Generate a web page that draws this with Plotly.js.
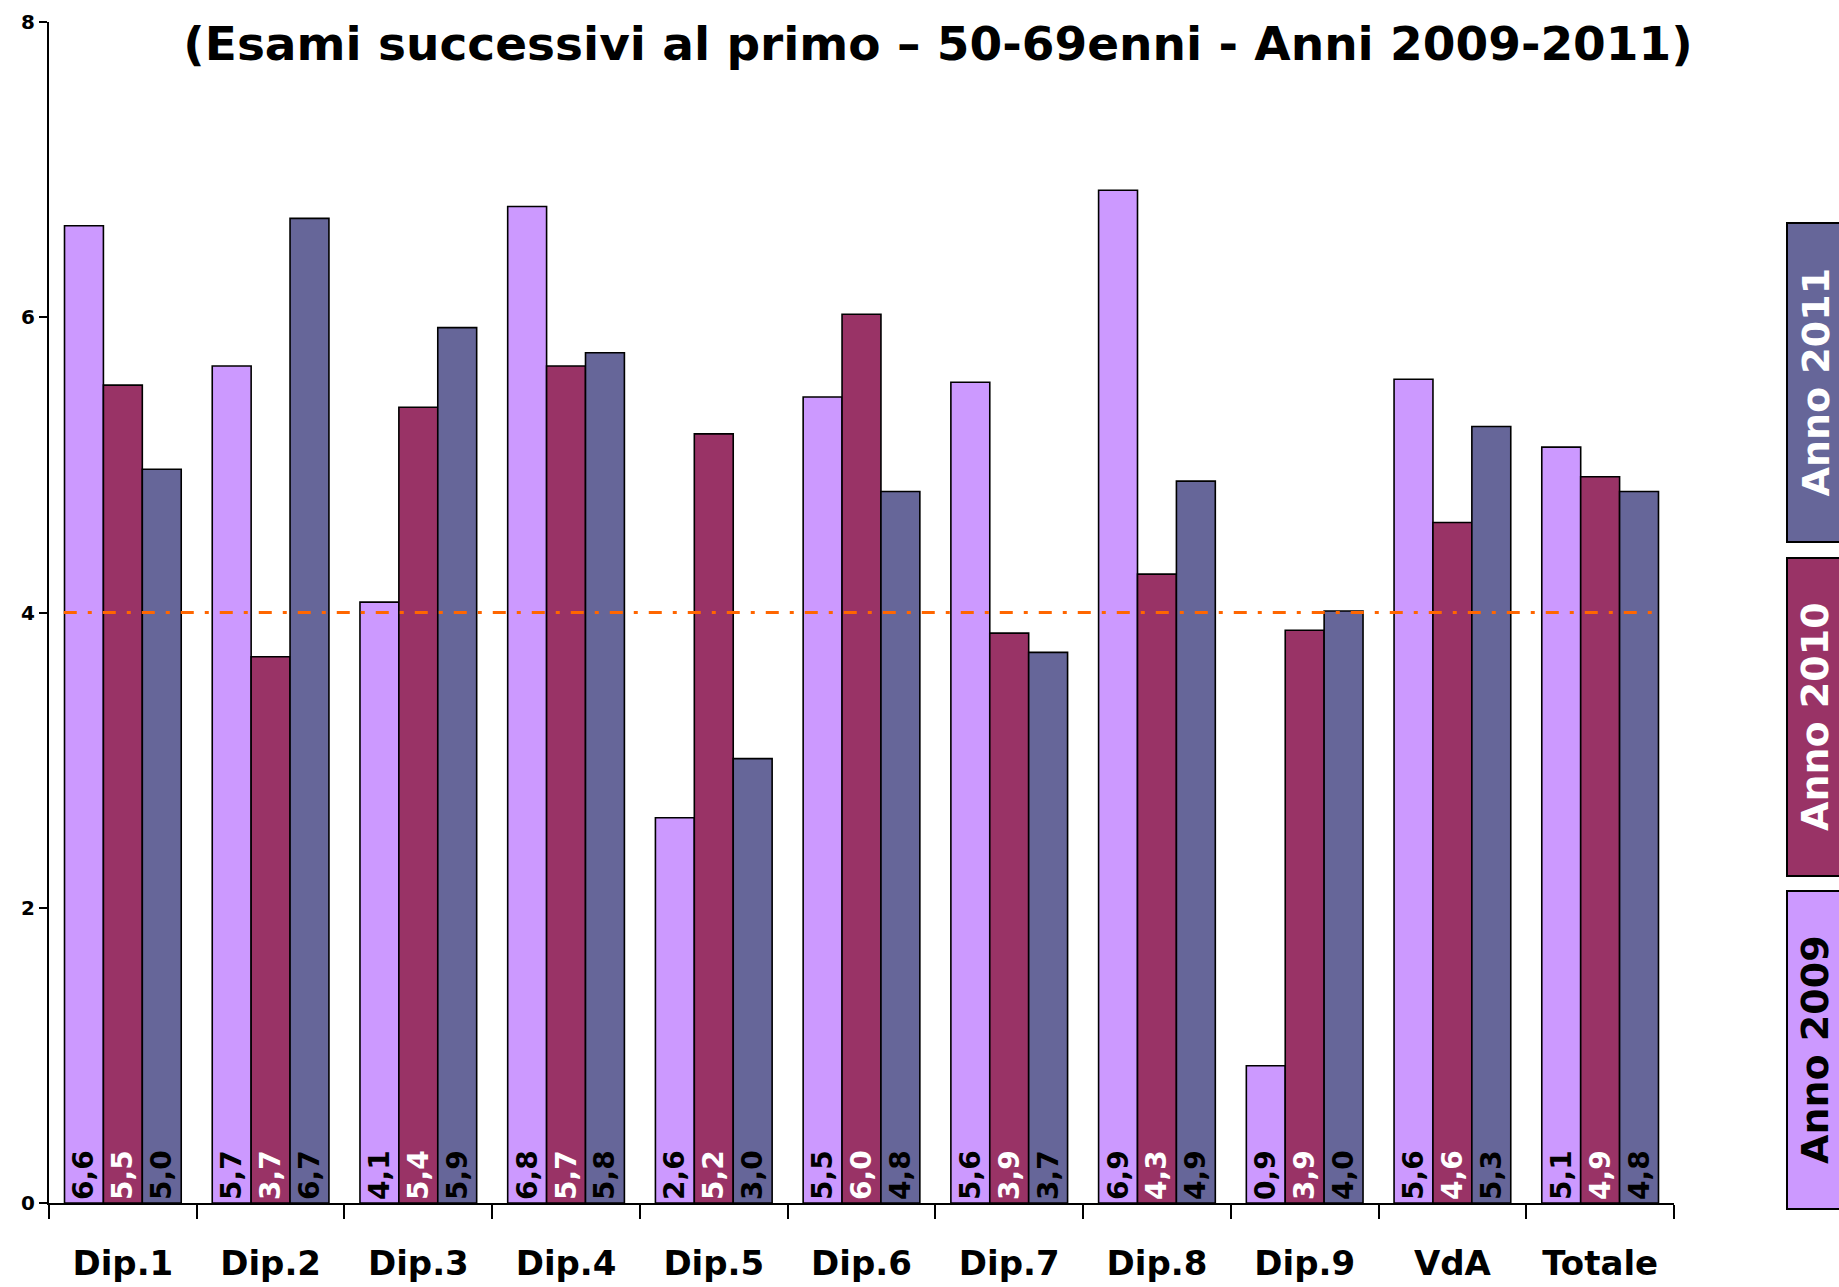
<!DOCTYPE html>
<html>
<head>
<meta charset="utf-8">
<script src="https://cdn.plot.ly/plotly-3.0.1.min.js"></script>
<style>html,body{margin:0;padding:0;background:#fff;}#chart{width:1839px;height:1287px;}</style>
</head>
<body>
<div id="chart"></div>
<script>
const categories = ["Dip.1","Dip.2","Dip.3","Dip.4","Dip.5","Dip.6","Dip.7","Dip.8","Dip.9","VdA","Totale"];
const seriesNames = ["Anno 2009","Anno 2010","Anno 2011"];
const values2009 = [6.62,5.67,4.07,6.75,2.61,5.46,5.56,6.86,0.93,5.58,5.12];
const values2010 = [5.54,3.70,5.39,5.67,5.21,6.02,3.86,4.26,3.88,4.61,4.92];
const values2011 = [4.97,6.67,5.93,5.76,3.01,4.82,3.73,4.89,4.01,5.26,4.82];
const threshold = 4;
const titleText = "(Esami successivi al primo – 50-69enni - Anni 2009-2011)";

const colors = ["#CC99FF","#993366","#666699"];
const textColors = ["#000000","#ffffff","#000000"];
const legendTextColors = ["#000000","#ffffff","#ffffff"];
const allValues = [values2009, values2010, values2011];
const FONT = "DejaVu Sans, Arial, sans-serif";

const traces = allValues.map((vals, i) => ({
  type: "bar",
  name: seriesNames[i],
  x: categories,
  y: vals,
  marker: {color: colors[i], line: {color: "#000", width: 1.6}},
  texttemplate: "%{y:.1f}",
  textposition: "inside",
  insidetextanchor: "start",
  textangle: -90,
  constraintext: "none",
  insidetextfont: {family: FONT, size: 28, color: textColors[i], weight: "bold"},
  hoverinfo: "skip",
  showlegend: false
}));

traces.push({
  type: "scatter",
  mode: "lines",
  x: [-0.4, 10.4],
  y: [threshold, threshold],
  xaxis: "x2",
  line: {color: "#FF6600", width: 3, dash: "13px,11px,4px,11px"},
  hoverinfo: "skip",
  showlegend: false
});

// Legend boxes (rotated) drawn as shapes + annotations
const legendBoxes = [
  {y0: 223, y1: 542, idx: 2},
  {y0: 558, y1: 876, idx: 1},
  {y0: 891, y1: 1209, idx: 0}
];
const H = 1287, W = 1839;
const shapes = legendBoxes.map(b => ({
  type: "rect", xref: "paper", yref: "paper",
  x0: (1787 - 49) / 1625, x1: (1860 - 49) / 1625,
  y0: (1203 - b.y1) / 1181, y1: (1203 - b.y0) / 1181,
  fillcolor: colors[b.idx], line: {color: "#000", width: 2}
}));
const annotations = legendBoxes.map(b => ({
  xref: "paper", yref: "paper",
  x: (1815 - 49) / 1625, y: (1203 - (b.y0 + b.y1) / 2) / 1181,
  text: seriesNames[b.idx], showarrow: false, textangle: -90,
  font: {family: FONT, size: 38, color: legendTextColors[b.idx], weight: "bold"},
  xanchor: "center", yanchor: "middle"
}));

const layout = {
  width: W, height: H,
  margin: {l: 49, r: 165, t: 22, b: 84},
  paper_bgcolor: "#fff", plot_bgcolor: "#fff",
  separators: ",.",
  barmode: "group", bargap: 0.21, bargroupgap: 0,
  showlegend: false,
  title: {
    text: titleText, xref: "container", yref: "container",
    x: 938 / W, xanchor: "center", y: 1 - 44 / H, yanchor: "middle",
    font: {family: FONT, size: 47, color: "#000", weight: "bold"}
  },
  xaxis: {
    type: "category", range: [-0.5, 10.5],
    showline: true, linecolor: "#000", linewidth: 2,
    ticks: "outside", tickson: "boundaries", ticklen: 14, tickwidth: 2, tickcolor: "#000",
    ticklabelstandoff: 29,
    tickfont: {family: FONT, size: 34, color: "#000", weight: "bold"},
    showgrid: false, zeroline: false, fixedrange: true
  },
  xaxis2: {range: [-0.5, 10.5], overlaying: "x", visible: false, fixedrange: true},
  yaxis: {
    range: [0, 8], tickvals: [0,2,4,6,8],
    showline: true, linecolor: "#000", linewidth: 2,
    ticks: "outside", ticklen: 8, tickwidth: 2, tickcolor: "#000",
    tickfont: {family: FONT, size: 20, color: "#000", weight: "bold"},
    showgrid: false, zeroline: false, fixedrange: true
  },
  shapes: shapes,
  annotations: annotations
};

Plotly.newPlot("chart", traces, layout, {displayModeBar: false, staticPlot: true});
</script>
</body>
</html>
